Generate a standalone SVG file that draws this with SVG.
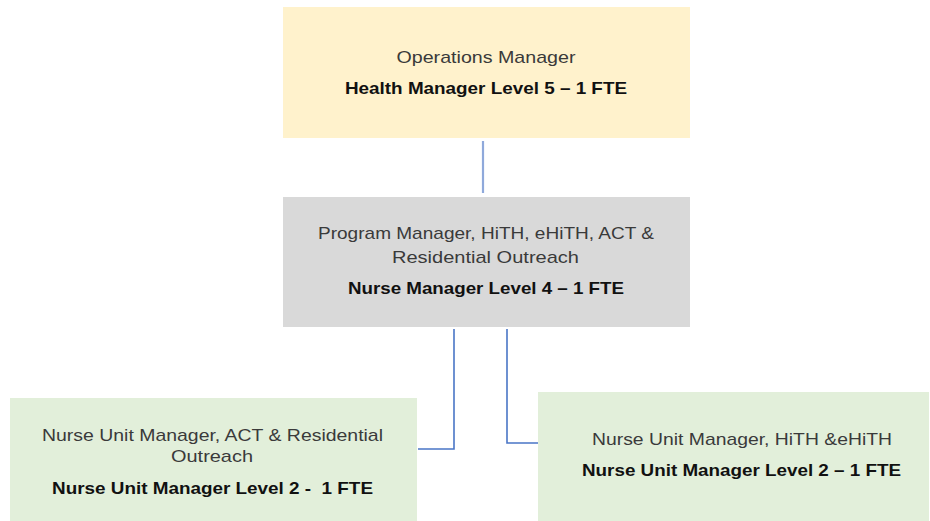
<svg xmlns="http://www.w3.org/2000/svg" width="930" height="521" viewBox="0 0 930 521">
<style>
.t{font-family:"Liberation Sans",Arial,sans-serif;font-size:17px;fill:#3a3a3a;text-anchor:middle}
.b{font-family:"Liberation Sans",Arial,sans-serif;font-size:17px;font-weight:bold;fill:#111;text-anchor:middle}
.c{fill:none;stroke:#4a76c6;stroke-width:1.6}
</style>
<rect width="930" height="521" fill="#fff"/>
<g id="connectors">
<line x1="483" y1="141" x2="483" y2="193" stroke="#8fa9db" stroke-width="2.2"/>
<polyline class="c" points="454,329 454,449 418,449"/>
<polyline class="c" points="507,329 507,443 538,443"/>
</g>
<g id="ops">
<rect x="283" y="7" width="407" height="131" fill="#fff2cc"/>
<text class="t" x="486" y="63" textLength="179" lengthAdjust="spacingAndGlyphs">Operations Manager</text>
<text class="b" x="486" y="94" textLength="282" lengthAdjust="spacingAndGlyphs">Health Manager Level 5 – 1 FTE</text>
</g>
<g id="program">
<rect x="283" y="197" width="407" height="130" fill="#d9d9d9"/>
<text class="t" x="486" y="239" textLength="336" lengthAdjust="spacingAndGlyphs">Program Manager, HiTH, eHiTH, ACT &amp;</text>
<text class="t" x="485.5" y="263" textLength="187" lengthAdjust="spacingAndGlyphs">Residential Outreach</text>
<text class="b" x="486" y="294" textLength="276" lengthAdjust="spacingAndGlyphs">Nurse Manager Level 4 – 1 FTE</text>
</g>
<g id="num-act">
<rect x="10" y="398" width="407" height="123" fill="#e2efda"/>
<text class="t" x="212.5" y="441" textLength="341" lengthAdjust="spacingAndGlyphs">Nurse Unit Manager, ACT &amp; Residential</text>
<text class="t" x="212" y="462" textLength="82" lengthAdjust="spacingAndGlyphs">Outreach</text>
<text class="b" x="212.5" y="494" textLength="321" lengthAdjust="spacingAndGlyphs" xml:space="preserve">Nurse Unit Manager Level 2 -  1 FTE</text>
</g>
<g id="num-hith">
<rect x="538" y="392" width="391" height="129" fill="#e2efda"/>
<text class="t" x="742" y="445" textLength="300" lengthAdjust="spacingAndGlyphs">Nurse Unit Manager, HiTH &amp;eHiTH</text>
<text class="b" x="741.5" y="476" textLength="319" lengthAdjust="spacingAndGlyphs">Nurse Unit Manager Level 2 – 1 FTE</text>
</g>
</svg>
